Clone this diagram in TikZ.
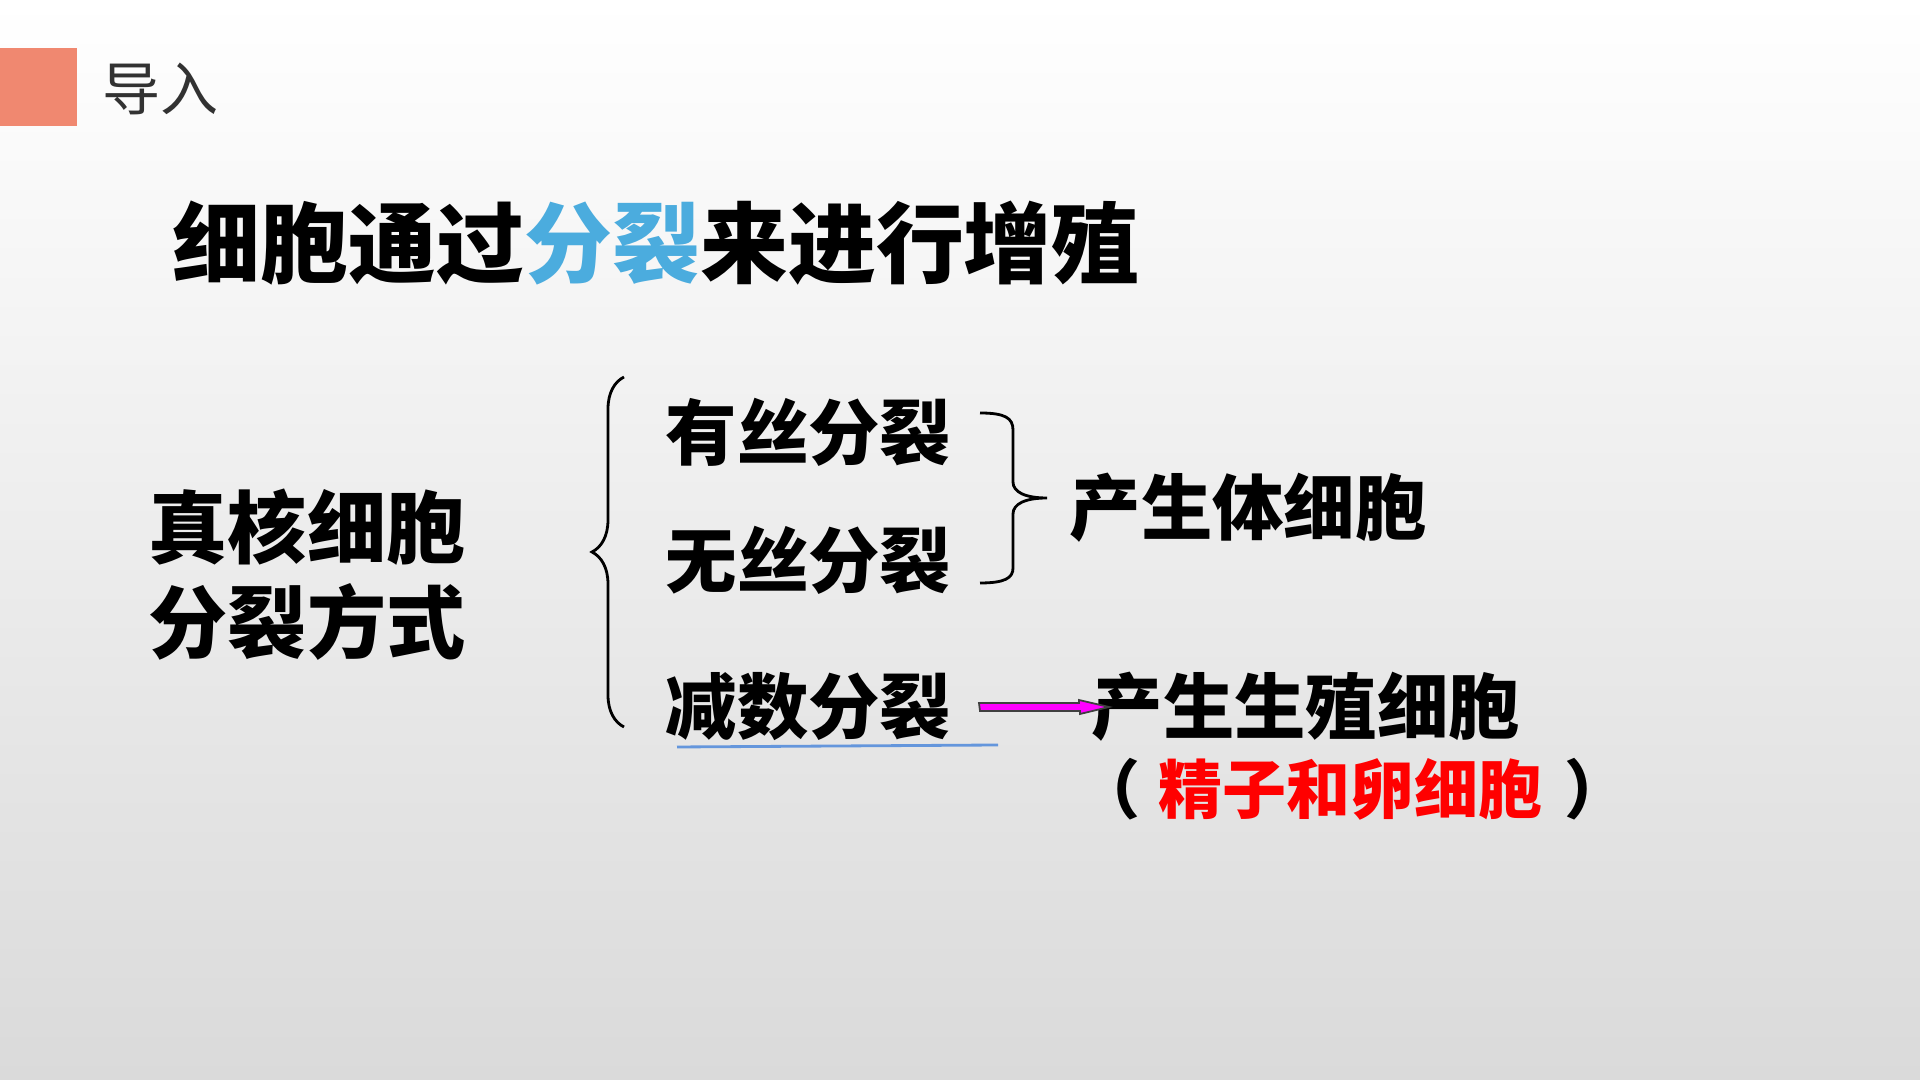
\documentclass[tikz,border=0pt]{standalone}
\usepackage{fontspec}
\setmainfont{Noto Sans CJK SC}
\usetikzlibrary{arrows.meta,positioning,decorations.pathreplacing}
\definecolor{headorange}{RGB}{240,136,112}
\definecolor{headgray}{RGB}{50,50,50}
\definecolor{titleblue}{RGB}{75,172,222}
\definecolor{gamered}{RGB}{255,0,0}
\definecolor{lineblue}{RGB}{100,150,220}
\definecolor{arrowpink}{RGB}{255,0,255}
\definecolor{bgbottom}{RGB}{218,218,218}
\tikzset{
      headtext/.style={
        font=\fontsize{16.5pt}{20pt}\selectfont,
        text=headgray,
        anchor=west,
        inner sep=0pt
      },
      titletext/.style={
        font=\bfseries\fontsize{25pt}{30pt}\selectfont,
        anchor=west,
        inner sep=0pt
      },
      sidetext/.style={
        font=\bfseries\fontsize{22.5pt}{27pt}\selectfont,
        align=left,
        inner sep=0pt
      },
      keyword/.style={
        font=\bfseries\fontsize{20.3pt}{24pt}\selectfont,
        anchor=west,
        inner sep=0pt
      },
      notetext/.style={
        font=\bfseries\fontsize{18.2pt}{22pt}\selectfont,
        anchor=west,
        inner sep=0pt
      },
      bracestyle/.style={
        line width=0.8pt
      },
      arrowbody/.style={
        fill=arrowpink,
        draw=black!75,
        line width=0.5pt,
        line join=miter
      }
    }
\begin{document}
\begin{tikzpicture}[x=0.01cm,y=-0.01cm]
    \shade[top color=white, bottom color=bgbottom] (0,0) rectangle (1920,1080);
    \useasboundingbox (0,0) rectangle (1920,1080);
    \fill[headorange] (0,48) rectangle (77,126);
    \node[headtext] (head) at (102,89) {导入};
    \node[titletext] (title) at (172,243) {细胞通过\textcolor{titleblue}{分裂}来进行增殖};
    \node[sidetext] (eukaryote) at (307,575) {真核细胞\\分裂方式};
    \node[keyword] (mitosis) at (665,432) {有丝分裂};
    \node[keyword] (amitosis) at (665,560) {无丝分裂};
    \node[keyword] (meiosis) at (665,707) {减数分裂};
    \node[keyword] (somatic) at (1069,508) {产生体细胞};
    \node[keyword] (germ) at (1091,707) {产生生殖细胞};
    \node[notetext] (gamete) at (1076,789) {（\hspace{0.18cm}\textcolor{gamered}{精子和卵细胞}\hspace{0.22cm}）};
    % braces
    \draw[bracestyle, decorate, decoration={brace, amplitude=0.32cm}] (624,727) -- (624,377);
    \draw[bracestyle] (980,413) .. controls (1005,413) and (1013,418) .. (1013,430) -- (1013,482)
      .. controls (1013,492) and (1025,498) .. (1047,498)
      .. controls (1025,498) and (1013,504) .. (1013,514) -- (1013,568)
      .. controls (1013,578) and (1005,583) .. (980,583);
    % underline and arrow
    \draw[lineblue, line width=0.8pt] (677,747) -- (998,745);
    \coordinate (arrowtail) at ([xshift=0.27cm]meiosis.east);
    \coordinate (arrowtip) at ([xshift=0.18cm]germ.west);
    \filldraw[arrowbody] (arrowtail) ++(0,-4) -- ++(100,0) -- ++(0,-3) -- (arrowtip)
      -- ++(-29,7) -- ++(0,-3) -- ++(-100,0) -- cycle;
\end{tikzpicture}
\end{document}
